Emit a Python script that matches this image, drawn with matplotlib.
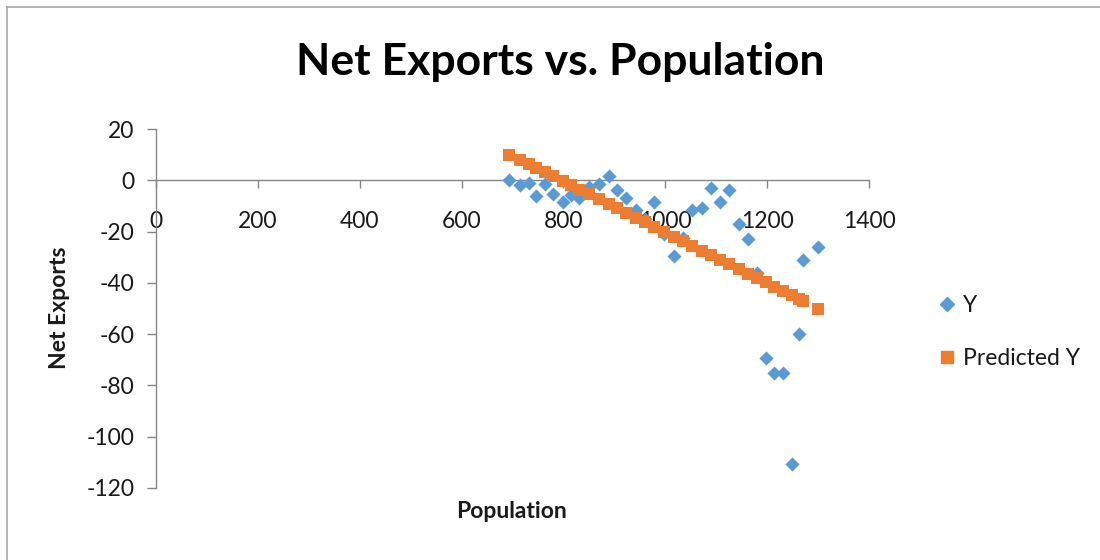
import matplotlib
matplotlib.use("Agg")
import matplotlib.pyplot as plt
from matplotlib.lines import Line2D

plt.rcParams['font.family'] = ['Lato', 'DejaVu Sans']
plt.rcParams['axes.unicode_minus'] = False

# Population (x) for each observation
population = [694, 714, 732, 746, 763, 779, 799, 815, 831, 851, 869, 889,
              905, 923, 942, 960, 978, 998, 1018, 1034, 1053, 1073, 1089,
              1107, 1125, 1144, 1163, 1181, 1197, 1214, 1231, 1248, 1263,
              1271, 1300]

# Observed net exports
y_obs = [0.3, -1.9, -1.0, -6.2, -1.3, -5.2, -8.4, -5.8, -7.1, -2.8, -1.3, 1.6,
         -3.9, -7.1, -11.4, -15.0, -8.4, -21.0, -29.6, -22.7, -11.7, -11.0,
         -2.9, -8.4, -3.9, -17.0, -22.8, -36.0, -69.2, -75.0, -75.0, -110.8,
         -60.1, -31.0, -26.0]

# Fitted values from the regression
y_pred = [10.0, 8.0, 6.2, 4.9, 3.2, 1.6, -0.4, -2.0, -3.6, -5.5, -7.3, -9.3,
          -10.9, -12.7, -14.6, -16.3, -18.1, -20.1, -22.1, -23.7, -25.5,
          -27.5, -29.1, -30.9, -32.7, -34.6, -36.4, -38.2, -39.8, -41.5,
          -43.2, -44.8, -46.3, -47.1, -50.0]

x_ticks = [0, 200, 400, 600, 800, 1000, 1200, 1400]
y_ticks = [20, 0, -20, -40, -60, -80, -100, -120]

BLUE = '#5B9BD5'
ORANGE = '#ED7D31'
AXIS_GRAY = '#868686'
TEXT = '#1a1a1a'

W, H = 1100, 560
fig = plt.figure(figsize=(W / 100, H / 100), dpi=100)
fig.patch.set_facecolor('white')

ax = fig.add_axes([156 / W, (H - 488) / H, (869 - 156) / W, (488 - 129) / H])
ax.set_facecolor('none')

ax.scatter(population, y_obs, marker='D', s=7.2 ** 2, color=BLUE,
           linewidths=0, zorder=3, label='Y')
ax.scatter(population, y_pred, marker='s', s=9.2 ** 2, color=ORANGE,
           linewidths=0, zorder=4, label='Predicted Y')

ax.set_xlim(0, 1400)
ax.set_ylim(-120, 20)
ax.set_xticks(x_ticks)
ax.set_yticks(y_ticks)

for side in ('top', 'right'):
    ax.spines[side].set_visible(False)
ax.spines['bottom'].set_position(('data', 0))
for side in ('left', 'bottom'):
    ax.spines[side].set_color(AXIS_GRAY)
    ax.spines[side].set_linewidth(1.0)

ax.tick_params(axis='x', direction='out', length=6, width=1, color=AXIS_GRAY,
               labelsize=16.5, labelcolor=TEXT, pad=16)
ax.tick_params(axis='y', direction='out', length=6.5, width=1, color=AXIS_GRAY,
               labelsize=16.5, labelcolor=TEXT, pad=9)

# axis titles
fig.text(512 / W, 1 - 512 / H, 'Population', fontsize=16.5, fontweight='bold',
         color=TEXT, ha='center', va='center')
fig.text(60 / W, 1 - 308 / H, 'Net Exports', fontsize=16.5, fontweight='bold',
         color=TEXT, ha='center', va='center', rotation=90)

fig.text(560 / W, 1 - 62 / H, 'Net Exports vs. Population', fontsize=32,
         fontweight='bold', color='black', ha='center', va='center')

handles = [Line2D([], [], marker='D', ms=7.0, color=BLUE, ls='none'),
           Line2D([], [], marker='s', ms=9.0, color=ORANGE, ls='none')]
fig.legend(handles, ['Y', 'Predicted Y'], loc='upper left',
           bbox_to_anchor=(917 / W, 1 - 274 / H), frameon=False, fontsize=16.5,
           labelspacing=1.4, handlelength=0.8, handletextpad=0.3,
           labelcolor=TEXT)

# chart area border
fig.add_artist(Line2D([7 / W, 7 / W], [0, 1 - 7 / H], transform=fig.transFigure,
                      color='#A6A6A6', lw=1.2))
fig.add_artist(Line2D([7 / W, 1], [1 - 7 / H, 1 - 7 / H], transform=fig.transFigure,
                      color='#A6A6A6', lw=1.2))

fig.savefig('out.png', dpi=100)
